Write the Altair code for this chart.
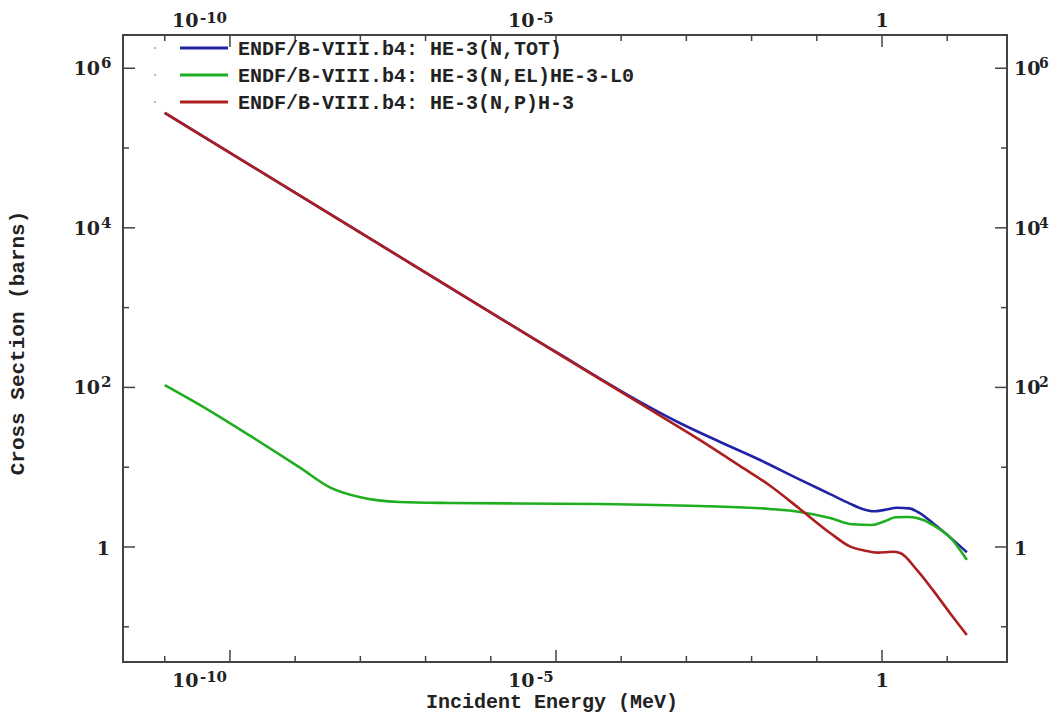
import altair as alt
import pandas as pd

# ---------------- data ----------------
series_names = [
    "ENDF/B-VIII.b4: HE-3(N,TOT)",
    "ENDF/B-VIII.b4: HE-3(N,EL)HE-3-L0",
    "ENDF/B-VIII.b4: HE-3(N,P)H-3",
]
series_colors = ["#2222a6", "#1fae1f", "#ad1f1f"]

E_tot = [1e-11, 1e-8, 1e-5, 2e-4, 7.9e-4, 3.3e-3, 0.0135, 0.055, 0.16, 0.32,
         0.5, 0.75, 1.1, 1.7, 2.6, 3.8, 6.0, 11, 20]
s_tot = [2.76e5, 8.7e3, 278, 65, 35.8, 20.7, 12.3, 7.0, 4.6, 3.5,
         3.0, 2.8, 2.92, 3.1, 3.05, 2.66, 2.0, 1.33, 0.86]

E_el = [1e-11, 3.5e-11, 2e-10, 1.2e-9, 3.4e-9, 1e-8, 4e-8, 2.3e-7, 4.7e-5,
        1.6e-3, 0.019, 0.055, 0.16, 0.35, 0.7, 1.1, 1.6, 2.6, 4.3, 6.0, 11, 20]
s_el = [107, 60, 25, 9.8, 5.6, 4.2, 3.66, 3.56, 3.46,
        3.26, 3.0, 2.75, 2.31, 1.93, 1.89, 2.1, 2.36, 2.38, 2.18, 1.89, 1.33, 0.69]

E_np = [1e-11, 1e-8, 1e-5, 2e-4, 1.6e-3, 6.6e-3, 0.019, 0.055, 0.16, 0.32,
        0.55, 0.85, 1.45, 1.9, 3.4, 6.0, 11, 20]
s_np = [2.75e5, 8.7e3, 275, 62, 22, 10.4, 5.9, 3.0, 1.5, 1.02,
        0.9, 0.85, 0.87, 0.84, 0.52, 0.29, 0.149, 0.079]

# tick labels: value, base text, exponent text
x_label_values = [1e-10, 1e-5, 1]
x_label_bases = ["10", "10", "1"]
x_label_exps = ["-10", "-5", ""]
x_minor = [1e-11, 1e-9, 1e-8, 1e-7, 1e-6, 1e-4, 1e-3, 1e-2, 1e-1, 10]

y_label_values = [1e6, 1e4, 1e2, 1]
y_label_bases = ["10", "10", "10", "1"]
y_label_exps = ["6", "4", "2", ""]
y_minor = [1e-1, 10, 1e3, 1e5]

x_title = "Incident Energy (MeV)"
y_title = "Cross Section (barns)"

# ---------------- layout / style ----------------
W, H = 884, 627
x_domain = [2.29e-12, 82.6]
y_domain = [0.0362, 2.61e6]
INK = "#222222"
FRAME = "#444444"
TICKFONT = "DejaVu Serif"
TEXTFONT = "Liberation Mono"
BASE_SIZE, EXP_SIZE = 19, 15

# horizontal offsets (px) of base / exponent relative to each x tick
x_base_dx = [-58, -48, 0]
x_exp_dx = [-30, -19, 0]

x_scale = alt.Scale(type="log", domain=x_domain, nice=False)
y_scale = alt.Scale(type="log", domain=y_domain, nice=False)

layers = []

# ---- curves ----
for E, s, col in [(E_tot, s_tot, series_colors[0]),
                  (E_el, s_el, series_colors[1]),
                  (E_np, s_np, series_colors[2])]:
    df = pd.DataFrame({"E": E, "s": s})
    layers.append(alt.Chart(df).mark_line(color=col, strokeWidth=2.6, interpolate="monotone",
                                          clip=True).encode(
        x=alt.X("E:Q", scale=x_scale, axis=None),
        y=alt.Y("s:Q", scale=y_scale, axis=None),
    ))


# ---- inward ticks on all four sides ----
def xticks(vals, L):
    df = pd.DataFrame({"v": vals})
    base = alt.Chart(df).mark_rule(color=FRAME, strokeWidth=1.5)
    return [
        base.encode(x=alt.X("v:Q", scale=x_scale, axis=None), y=alt.value(H), y2=alt.value(H - L)),
        base.encode(x=alt.X("v:Q", scale=x_scale, axis=None), y=alt.value(0), y2=alt.value(L)),
    ]


def yticks(vals, L):
    df = pd.DataFrame({"v": vals})
    base = alt.Chart(df).mark_rule(color=FRAME, strokeWidth=1.5)
    return [
        base.encode(y=alt.Y("v:Q", scale=y_scale, axis=None), x=alt.value(0), x2=alt.value(L)),
        base.encode(y=alt.Y("v:Q", scale=y_scale, axis=None), x=alt.value(W), x2=alt.value(W - L)),
    ]


layers += xticks(x_label_values, 12) + xticks(x_minor, 6) + yticks(y_label_values, 12) + yticks(y_minor, 6)

txt = dict(font=TICKFONT, fontWeight="bold", color=INK, baseline="alphabetic")

# ---- x tick labels (bottom and top) ----
for v, b, e, bdx, edx in zip(x_label_values, x_label_bases, x_label_exps, x_base_dx, x_exp_dx):
    df = pd.DataFrame({"v": [v], "b": [b], "e": [e]})
    X = alt.X("v:Q", scale=x_scale, axis=None)
    for yb, ye in [(H + 25, H + 20), (-8, -12)]:
        if e:
            layers.append(alt.Chart(df).mark_text(align="left", dx=bdx, fontSize=BASE_SIZE, **txt)
                          .encode(x=X, y=alt.value(yb), text="b:N"))
            layers.append(alt.Chart(df).mark_text(align="left", dx=edx, fontSize=EXP_SIZE, **txt)
                          .encode(x=X, y=alt.value(ye), text="e:N"))
        else:
            layers.append(alt.Chart(df).mark_text(align="center", fontSize=BASE_SIZE, **txt)
                          .encode(x=X, y=alt.value(yb), text="b:N"))

# ---- y tick labels (left and right) ----
for v, b, e in zip(y_label_values, y_label_bases, y_label_exps):
    df = pd.DataFrame({"v": [v], "b": [b], "e": [e]})
    Y = alt.Y("v:Q", scale=y_scale, axis=None)
    if e:
        layers.append(alt.Chart(df).mark_text(align="right", dy=7, fontSize=BASE_SIZE, **txt)
                      .encode(x=alt.value(-23), y=Y, text="b:N"))
        layers.append(alt.Chart(df).mark_text(align="left", dy=0, fontSize=EXP_SIZE, **txt)
                      .encode(x=alt.value(-22), y=Y, text="e:N"))
        layers.append(alt.Chart(df).mark_text(align="left", dy=7, fontSize=BASE_SIZE, **txt)
                      .encode(x=alt.value(W + 7), y=Y, text="b:N"))
        layers.append(alt.Chart(df).mark_text(align="left", dy=0, fontSize=EXP_SIZE - 1, **txt)
                      .encode(x=alt.value(W + 32), y=Y, text="e:N"))
    else:
        layers.append(alt.Chart(df).mark_text(align="right", dy=8, fontSize=BASE_SIZE, **txt)
                      .encode(x=alt.value(-13), y=Y, text="b:N"))
        layers.append(alt.Chart(df).mark_text(align="left", dy=8, fontSize=BASE_SIZE, **txt)
                      .encode(x=alt.value(W + 7), y=Y, text="b:N"))

# ---- axis titles ----
layers.append(alt.Chart(pd.DataFrame({"t": [x_title]})).mark_text(
    align="center", baseline="alphabetic", font=TEXTFONT, fontWeight="bold",
    fontSize=20, color=INK).encode(text="t:N", x=alt.value(429), y=alt.value(H + 46)))
layers.append(alt.Chart(pd.DataFrame({"t": [y_title]})).mark_text(
    align="center", baseline="middle", angle=270, font=TEXTFONT, fontWeight="bold",
    fontSize=21, color=INK).encode(text="t:N", x=alt.value(-105), y=alt.value(308)))

# ---- legend (inside the plot, top-left) ----
for i, (name, col) in enumerate(zip(series_names, series_colors)):
    yy = 13 + 27 * i
    d = pd.DataFrame({"t": [name]})
    layers.append(alt.Chart(d).mark_point(filled=True, size=5, color="#aaaaaa", opacity=1).encode(
        x=alt.value(32), y=alt.value(yy)))
    layers.append(alt.Chart(d).mark_rule(color=col, strokeWidth=3).encode(
        x=alt.value(57), x2=alt.value(105), y=alt.value(yy)))
    layers.append(alt.Chart(d).mark_text(align="left", baseline="middle", font=TEXTFONT,
                                         fontWeight="bold", fontSize=20, color=INK).encode(
        text="t:N", x=alt.value(115), y=alt.value(yy + 1)))

chart = alt.layer(*layers).properties(
    width=W, height=H,
    padding={"left": 115, "top": 27, "right": 42, "bottom": 55},
    autosize=alt.AutoSizeParams(type="none"),
    background="white",
).configure_view(stroke=FRAME, strokeWidth=2)

chart.save("out.html", embed_options={"renderer": "svg", "actions": False})
